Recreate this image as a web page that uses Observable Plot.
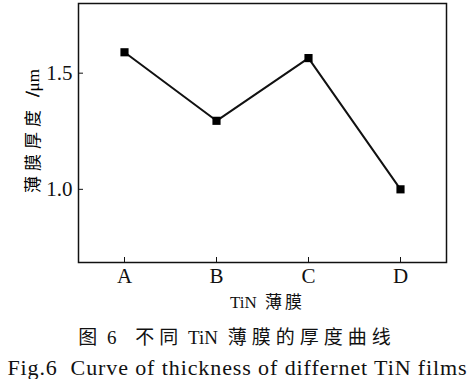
<!DOCTYPE html>
<html>
<head>
<meta charset="utf-8">
<script src="https://cdn.jsdelivr.net/npm/d3@7"></script>
<script src="https://cdn.jsdelivr.net/npm/@observablehq/plot@0.6"></script>
<style>
  html, body { margin: 0; padding: 0; background: #fff; }
  body { width: 475px; font-family: "Liberation Serif", "Noto Sans CJK SC", serif; color: #111; }
  .cap { text-align: center; white-space: nowrap; line-height: 1; }
  #cap1 { font-size: 19px; margin-top: 6px; padding-right: 6px; }
  #cap1 .cjk { letter-spacing: 5px; }
  #cap2 { font-size: 22px; margin-top: 10px; letter-spacing: 0.9px; }
</style>
</head>
<body>
<div id="chart"></div>
<div class="cap" id="cap1"><span class="cjk">图</span> <span style="margin-right:14px">6</span> <span class="cjk">不同</span> <span style="margin-right:5px">TiN</span> <span class="cjk">薄膜的厚度曲</span>线</div>
<div class="cap" id="cap2">Fig.6&nbsp; Curve of thickness of differnet TiN films</div>
<script>
const films = ["A", "B", "C", "D"];
const thickness = [1.59, 1.295, 1.565, 1.0];
const yTicks = [1.0, 1.5];
const xLabel = "TiN 薄膜";
const yLabel = "薄膜厚度 /μm";

const data = films.map((f, i) => ({film: f, t: thickness[i]}));

const chart = Plot.plot({
  width: 475,
  height: 322,
  marginLeft: 78,
  marginRight: 29,
  marginTop: 3,
  marginBottom: 60,
  style: {fontFamily: "'Liberation Serif', 'Noto Sans CJK SC', serif", fontSize: "21px", color: "#111", background: "#fff"},
  x: {type: "point", domain: films, padding: 0.5, label: null},
  y: {domain: [0.685, 1.80], label: null},
  marks: [
    Plot.frame({stroke: "#111", strokeWidth: 1.5}),
    Plot.axisX({ticks: films, tickSize: -5, tickPadding: 11, stroke: "#111", fontSize: 21}),
    Plot.axisY({ticks: yTicks, tickSize: -5, tickPadding: 11, tickFormat: d => d.toFixed(1), stroke: "#111", fontSize: 21}),
    Plot.text([xLabel], {frameAnchor: "bottom", dy: 45, dx: 5, fontSize: 17, fill: "#111"}),
    Plot.text([yLabel], {frameAnchor: "left", textAnchor: "middle", dx: -45, dy: -2, rotate: -90, fontSize: 17, fill: "#000"}),
    Plot.line(data, {x: "film", y: "t", stroke: "#111", strokeWidth: 2}),
    Plot.dot(data, {x: "film", y: "t", symbol: "square", r: 4.6, fill: "#000", stroke: "none"})
  ]
});
// letter-space only the CJK characters, as in the reference typesetting
const NS = "http://www.w3.org/2000/svg";
chart.querySelectorAll("text").forEach(t => {
  const s = t.textContent;
  if (s !== xLabel && s !== yLabel) return;
  const parts = s.match(/[\u4e00-\u9fff]+|\/|[^\u4e00-\u9fff\/]+/g);
  while (t.firstChild) t.removeChild(t.firstChild);
  parts.forEach(p => {
    const ts = document.createElementNS(NS, "tspan");
    ts.textContent = p;
    if (/[\u4e00-\u9fff]/.test(p)) {
      ts.setAttribute("letter-spacing", s === yLabel ? "5" : "3");
      if (s === xLabel) ts.setAttribute("dx", "4");
    }
    if (p === "/") {
      ts.setAttribute("stroke", "#000");
      ts.setAttribute("stroke-width", "0.6");
      ts.setAttribute("font-size", "19");
      ts.setAttribute("dx", "4");
    }
    t.appendChild(ts);
  });
});
document.getElementById("chart").appendChild(chart);
</script>
</body>
</html>
